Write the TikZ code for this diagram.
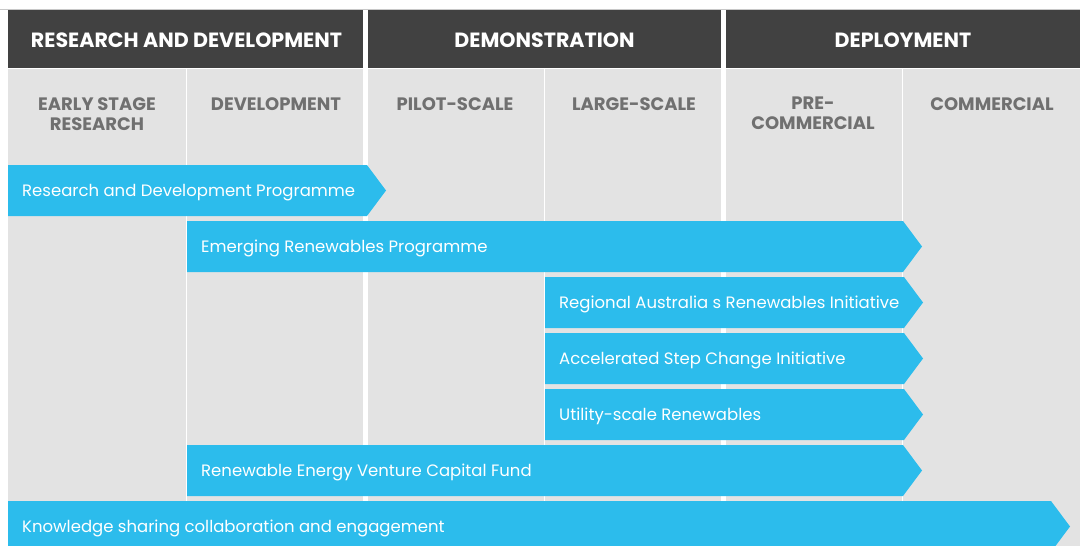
\documentclass[tikz,border=0pt]{standalone}
\usepackage{fontspec}
\setmainfont{Poppins}
\definecolor{barblue}{HTML}{2CBCEC}
\definecolor{panelgrey}{HTML}{E3E3E3}
\definecolor{hdrdark}{HTML}{414141}
\definecolor{subgrey}{HTML}{707070}
\definecolor{linegrey}{HTML}{C8C8C8}
\begin{document}
\begin{tikzpicture}[x=1pt,y=-1pt,
  hdr/.style={font=\fontsize{20.6}{24}\selectfont\bfseries, text=white, anchor=base, inner sep=0pt},
  sub/.style={font=\fontsize{18}{20}\selectfont\bfseries, text=subgrey, align=center, anchor=north, inner sep=0pt},
  lbl/.style={font=\fontsize{16.5}{20}\selectfont, text=white, anchor=base west, inner sep=0pt},
  barfill/.style={fill=barblue},
  divider/.style={draw=white, line width=1pt}
]
\useasboundingbox (0,0) rectangle (1080,546);
\clip (0,0) rectangle (1080,546);
\fill[white] (0,0) rectangle (1080,546);
\draw[linegrey, line width=0.8pt] (0,9) -- (1080,9);
% grey panel
\fill[panelgrey] (8,69) rectangle (1080,546);
% header blocks
\fill[hdrdark] (8,10) rectangle (363,68);
\fill[hdrdark] (368,10) rectangle (721,68);
\fill[hdrdark] (726,10) rectangle (1080,68);
% column dividers
\fill[white] (363,69) rectangle (368,546);
\fill[white] (721,69) rectangle (726,546);
\draw[divider] (186.5,69) -- (186.5,546);
\draw[divider] (544.5,69) -- (544.5,546);
\draw[divider] (902.5,69) -- (902.5,546);
% header texts
\node[hdr] (h1) at (186.5,47.5) {RESEARCH AND DEVELOPMENT};
\node[hdr] (h2) at (544.5,47.5) {DEMONSTRATION};
\node[hdr] (h3) at (903,47.5) {DEPLOYMENT};
% sub headers
\node[sub] (s1) at (97,97) {EARLY STAGE\\RESEARCH};
\node[sub] (s2) at (276,97) {DEVELOPMENT};
\node[sub] (s3) at (455,97) {PILOT-SCALE};
\node[sub] (s4) at (634,97) {LARGE-SCALE};
\node[sub] (s5) at (813,97) {PRE-\\COMMERCIAL};
\node[sub] (s6) at (992,97) {COMMERCIAL};
% bars
\foreach \xa/\xb/\ya/\nm/\txt in {
  8/367/165/b1/{Research and Development Programme},
  187/903/221/b2/{Emerging Renewables Programme},
  545/904/277/b3/{Regional Australia s Renewables Initiative},
  545/904/333/b4/{Accelerated Step Change Initiative},
  545/904/389/b5/{Utility-scale Renewables},
  187/903/445/b6/{Renewable Energy Venture Capital Fund},
  8/1051/501/b7/{Knowledge sharing collaboration and engagement}} {
  \fill[barfill] (\xa,\ya) -- (\xb,\ya) -- (\xb+19,\ya+25.5) -- (\xb,\ya+51) -- (\xa,\ya+51) -- cycle;
  \node[lbl] (\nm) at (\xa+14,\ya+31.5) {\txt};
}
\end{tikzpicture}
\end{document}
